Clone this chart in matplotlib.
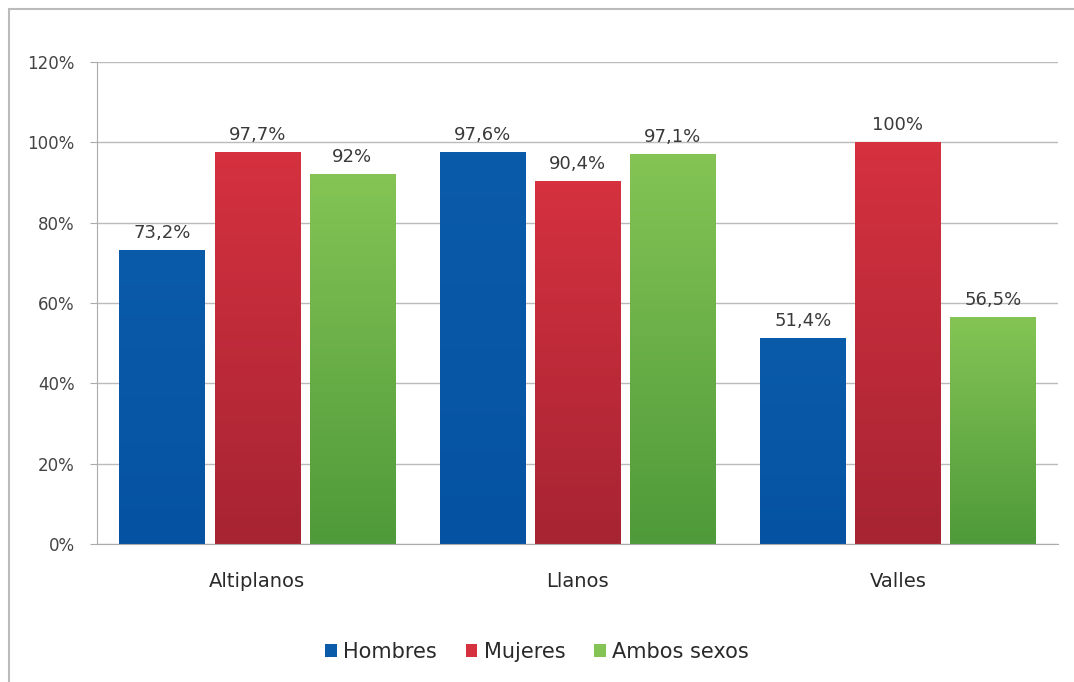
import matplotlib.pyplot as plt
import matplotlib.colors as mcolors
from matplotlib.patches import Rectangle
import numpy as np

plt.rcParams['font.family'] = ['DejaVu Sans']

regiones = ['Altiplanos', 'Llanos', 'Valles']
series = ['Hombres', 'Mujeres', 'Ambos sexos']
hombres = [73.2, 97.6, 51.4]
mujeres = [97.7, 90.4, 100.0]
ambos = [92.0, 97.1, 56.5]
etiquetas = [['73,2%', '97,6%', '51,4%'],
             ['97,7%', '90,4%', '100%'],
             ['92%', '97,1%', '56,5%']]
yticks = [0, 20, 40, 60, 80, 100, 120]

# top / bottom colours of each gradient
colores = [('#0b5bab', '#0552a2'),
           ('#d5313f', '#a72433'),
           ('#84c455', '#4f9a3a')]

fig = plt.figure(figsize=(10.74, 6.82), dpi=100)
ax = fig.add_axes([97/1074, 1-544/682, 961/1074, 482/682])

x = np.arange(len(regiones))
w = 0.266
paso = 0.297
datos = [hombres, mujeres, ambos]
for i, vals in enumerate(datos):
    xs = x + (i - 1) * paso
    bars = ax.bar(xs, vals, w, color=colores[i][0], zorder=2, label=series[i])
    cmap = mcolors.LinearSegmentedColormap.from_list('g%d' % i, [colores[i][1], colores[i][0]])
    for b, v, t in zip(bars, vals, etiquetas[i]):
        x0 = b.get_x()
        im = ax.imshow(np.linspace(0, 1, 100).reshape(-1, 1), cmap=cmap, origin='lower',
                       extent=[x0, x0 + w, 0, v], aspect='auto', zorder=2.5)
        im.set_clip_path(b)
        ax.text(x0 + w / 2, v + 2.0, t, ha='center', va='bottom', fontsize=13, color='#3a3a3a')

ax.set_xlim(-0.5, 2.5)
ax.set_ylim(0, 120)
ax.set_yticks(yticks)
ax.set_yticklabels(['%d%%' % t for t in yticks], fontsize=12, color='#444444')
ax.set_xticks(x)
ax.set_xticklabels(regiones, fontsize=14, color='#2a2a2a')
ax.tick_params(axis='x', length=0, pad=20)
ax.tick_params(axis='y', length=5, color='#aaaaaa', pad=11)
ax.grid(axis='y', color='#bbbbbb', linewidth=1, zorder=0)
ax.set_axisbelow(True)
for s in ['top', 'right']:
    ax.spines[s].set_visible(False)
for s in ['left', 'bottom']:
    ax.spines[s].set_color('#aaaaaa')

ax.legend(loc='center', bbox_to_anchor=(0.5, 1 - 652/682), bbox_transform=fig.transFigure,
          ncol=3, frameon=False, fontsize=15, handlelength=0.55, handleheight=0.55,
          handletextpad=0.3, columnspacing=1.4, labelcolor='#2a2a2a')

fig.patches.append(Rectangle((9/1074, -0.1), 1.2, 1 - 9/682 + 0.1, transform=fig.transFigure,
                             fill=False, edgecolor='#bbbbbb', linewidth=1.5))

fig.savefig('out.png', dpi=100)
